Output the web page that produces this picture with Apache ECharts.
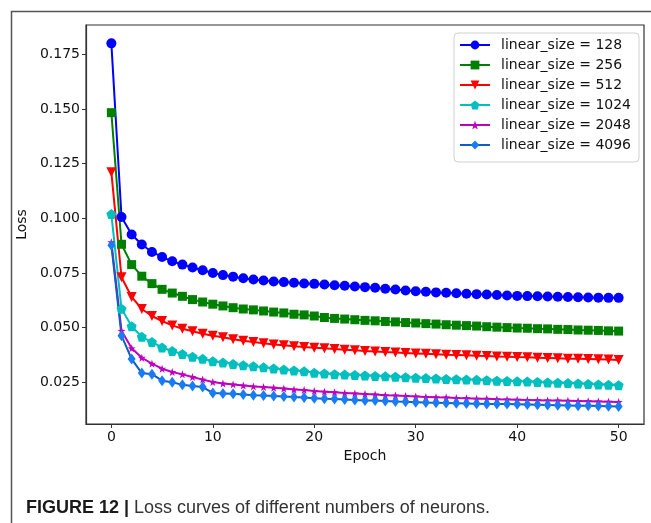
<!DOCTYPE html>
<html>
<head>
<meta charset="utf-8">
<script src="https://cdn.jsdelivr.net/npm/echarts@6/dist/echarts.min.js"></script>
<style>
  html, body { margin: 0; padding: 0; background: #fff; }
  #chart { width: 651px; height: 523px; }
</style>
</head>
<body>
<div id="chart"></div>
<script>
// epochs 0..50
const epochs = []
for (let i = 0; i <= 50; i++) epochs.push(i)

const seriesNames = ['linear_size = 128', 'linear_size = 256', 'linear_size = 512',
  'linear_size = 1024', 'linear_size = 2048', 'linear_size = 4096']

const loss128 = [0.1800, 0.1006, 0.0926, 0.0880, 0.0846, 0.0823, 0.0803, 0.0788, 0.0775, 0.0762,
  0.0750, 0.0740, 0.0733, 0.0726, 0.0720, 0.0715, 0.0711, 0.0708, 0.0705, 0.0702,
  0.0700, 0.0697, 0.0694, 0.0691, 0.0688, 0.0685, 0.0682, 0.0678, 0.0674, 0.0670,
  0.0666, 0.0664, 0.0661, 0.0659, 0.0657, 0.0655, 0.0653, 0.0651, 0.0649, 0.0647,
  0.0645, 0.0644, 0.0643, 0.0642, 0.0641, 0.0640, 0.0639, 0.0638, 0.0637, 0.0636, 0.0636]

const loss256 = [0.1483, 0.0881, 0.0788, 0.0735, 0.0701, 0.0675, 0.0658, 0.0643, 0.0628, 0.0617,
  0.0607, 0.0599, 0.0591, 0.0585, 0.0581, 0.0576, 0.0571, 0.0567, 0.0561, 0.0558,
  0.0553, 0.0546, 0.0542, 0.0539, 0.0536, 0.0533, 0.0531, 0.0528, 0.0526, 0.0523,
  0.0521, 0.0518, 0.0516, 0.0513, 0.0511, 0.0509, 0.0507, 0.0504, 0.0502, 0.0500,
  0.0498, 0.0497, 0.0495, 0.0494, 0.0492, 0.0491, 0.0489, 0.0488, 0.0487, 0.0485, 0.0484]

const loss512 = [0.1210, 0.0730, 0.0640, 0.0585, 0.0553, 0.0530, 0.0510, 0.0495, 0.0483, 0.0472,
  0.0463, 0.0456, 0.0447, 0.0440, 0.0434, 0.0428, 0.0423, 0.0419, 0.0415, 0.0411,
  0.0408, 0.0405, 0.0402, 0.0399, 0.0396, 0.0393, 0.0391, 0.0388, 0.0386, 0.0384,
  0.0382, 0.0380, 0.0378, 0.0376, 0.0375, 0.0373, 0.0371, 0.0370, 0.0368, 0.0367,
  0.0365, 0.0364, 0.0362, 0.0361, 0.0360, 0.0358, 0.0357, 0.0356, 0.0355, 0.0354, 0.0352]

const loss1024 = [0.1019, 0.0586, 0.0506, 0.0458, 0.0434, 0.0409, 0.0393, 0.0379, 0.0367, 0.0357,
  0.0346, 0.0340, 0.0334, 0.0328, 0.0323, 0.0318, 0.0313, 0.0308, 0.0304, 0.0300,
  0.0293, 0.0290, 0.0287, 0.0285, 0.0283, 0.0281, 0.0279, 0.0277, 0.0275, 0.0273,
  0.0271, 0.0269, 0.0267, 0.0265, 0.0264, 0.0262, 0.0261, 0.0259, 0.0257, 0.0256,
  0.0254, 0.0253, 0.0251, 0.0249, 0.0248, 0.0246, 0.0244, 0.0242, 0.0240, 0.0238, 0.0236]

const loss2048 = [0.0890, 0.0485, 0.0405, 0.0362, 0.0335, 0.0312, 0.0297, 0.0286, 0.0274, 0.0262,
  0.0251, 0.0244, 0.0240, 0.0235, 0.0231, 0.0228, 0.0225, 0.0221, 0.0217, 0.0214,
  0.0210, 0.0207, 0.0204, 0.0201, 0.0199, 0.0196, 0.0194, 0.0191, 0.0189, 0.0187,
  0.0185, 0.0183, 0.0181, 0.0180, 0.0178, 0.0177, 0.0175, 0.0174, 0.0172, 0.0171,
  0.0170, 0.0169, 0.0168, 0.0167, 0.0166, 0.0165, 0.0164, 0.0163, 0.0162, 0.0161, 0.0160]

const loss4096 = [0.0877, 0.0463, 0.0356, 0.0292, 0.0287, 0.0257, 0.0250, 0.0238, 0.0233, 0.0228,
  0.0201, 0.0199, 0.0197, 0.0194, 0.0191, 0.0189, 0.0187, 0.0185, 0.0182, 0.0180,
  0.0177, 0.0175, 0.0173, 0.0171, 0.0169, 0.0167, 0.0166, 0.0164, 0.0162, 0.0161,
  0.0159, 0.0157, 0.0156, 0.0155, 0.0154, 0.0153, 0.0152, 0.0151, 0.0150, 0.0150,
  0.0149, 0.0148, 0.0147, 0.0146, 0.0145, 0.0144, 0.0143, 0.0142, 0.0141, 0.0140, 0.0139]

const xTicks = [0, 10, 20, 30, 40, 50]
const yTicks = [0.025, 0.050, 0.075, 0.100, 0.125, 0.150, 0.175]

// marker shapes
const pentagon = 'path://M0,-10 L9.51,-3.09 L5.88,8.09 L-5.88,8.09 L-9.51,-3.09 Z'
const star = 'path://M0,-10 L2.35,-3.24 L9.51,-3.09 L3.8,1.24 L5.88,8.09 L0,4 L-5.88,8.09 L-3.8,1.24 L-9.51,-3.09 L-2.35,-3.24 Z'

const chart = echarts.init(document.getElementById('chart'))

function makeSeries (name, values, lineColor, markColor, symbol, size, rotate) {
  return {
    name: name,
    type: 'line',
    data: epochs.map((e, i) => [e, values[i]]),
    symbol: symbol,
    symbolSize: size,
    symbolRotate: rotate || 0,
    showAllSymbol: true,
    lineStyle: { color: lineColor, width: 2 },
    itemStyle: { color: markColor, borderWidth: 0 },
    emphasis: { disabled: true },
    z: 3
  }
}

const font = 'DejaVu Sans'

const option = {
  animation: false,
  backgroundColor: '#fff',
  grid: {
    left: 86,
    top: 25,
    right: 7,
    bottom: 99,
    show: true,
    borderColor: '#333',
    borderWidth: 1.2,
    backgroundColor: 'transparent'
  },
  legend: {
    orient: 'vertical',
    left: 454,
    top: 33,
    padding: [4, 8, 9, 5],
    itemWidth: 30,
    itemHeight: 11,
    itemGap: 4,
    backgroundColor: '#fff',
    borderColor: '#d0d0d0',
    borderWidth: 1,
    borderRadius: 4,
    textStyle: { fontFamily: font, fontSize: 14, color: '#111', lineHeight: 16, padding: [0, 0, 0, 6] },
    data: seriesNames
  },
  xAxis: {
    type: 'value',
    min: -2.5,
    max: 52.5,
    name: 'Epoch',
    nameLocation: 'middle',
    nameGap: 24,
    nameTextStyle: { fontFamily: font, fontSize: 14, color: '#111' },
    axisLine: { show: true, onZero: false, lineStyle: { color: '#333', width: 1.2 } },
    axisTick: { show: true, inside: false, length: 4, customValues: xTicks, lineStyle: { color: '#333' } },
    axisLabel: { customValues: xTicks, margin: 6, fontFamily: font, fontSize: 14, color: '#111' },
    splitLine: { show: false }
  },
  yAxis: {
    type: 'value',
    min: 0.0059,
    max: 0.1884,
    name: 'Loss',
    nameLocation: 'middle',
    nameGap: 52,
    nameTextStyle: { fontFamily: font, fontSize: 14, color: '#111' },
    axisLine: { show: true, onZero: false, lineStyle: { color: '#333', width: 1.2 } },
    axisTick: { show: true, inside: false, length: 4, customValues: yTicks, lineStyle: { color: '#333' } },
    axisLabel: {
      customValues: yTicks,
      margin: 6,
      fontFamily: font,
      fontSize: 14,
      color: '#111',
      formatter: v => v.toFixed(3)
    },
    splitLine: { show: false }
  },
  graphic: [
    {
      type: 'rect',
      left: 9,
      top: 9,
      shape: { x: 0, y: 0, width: 700, height: 600 },
      style: { fill: 'none', stroke: '#555', lineWidth: 1.5 },
      silent: true,
      z: -1
    },
    {
      type: 'text',
      left: 26,
      top: 499,
      style: {
        text: '{b|FIGURE 12 |}{n| Loss curves of different numbers of neurons.}',
        rich: {
          b: { fontFamily: 'Liberation Sans', fontWeight: 'bold', fontSize: 18, fill: '#1a1a1a' },
          n: { fontFamily: 'Liberation Sans', fontSize: 18, fill: '#333' }
        }
      }
    }
  ],
  series: [
    makeSeries(seriesNames[0], loss128, '#0000ff', '#0000ff', 'circle', 10),
    makeSeries(seriesNames[1], loss256, '#008000', '#008000', 'rect', 9),
    makeSeries(seriesNames[2], loss512, '#ff0000', '#ff0000', 'triangle', 10, 180),
    makeSeries(seriesNames[3], loss1024, '#00bfbf', '#00bfbf', pentagon, 10),
    makeSeries(seriesNames[4], loss2048, '#bf00bf', '#bf00bf', star, 8),
    makeSeries(seriesNames[5], loss4096, '#0b5fc4', '#1a7cf5', 'diamond', [8, 11])
  ]
}

chart.setOption(option)
window.addEventListener('resize', () => {
  chart.resize()
})
</script>
</body>
</html>
